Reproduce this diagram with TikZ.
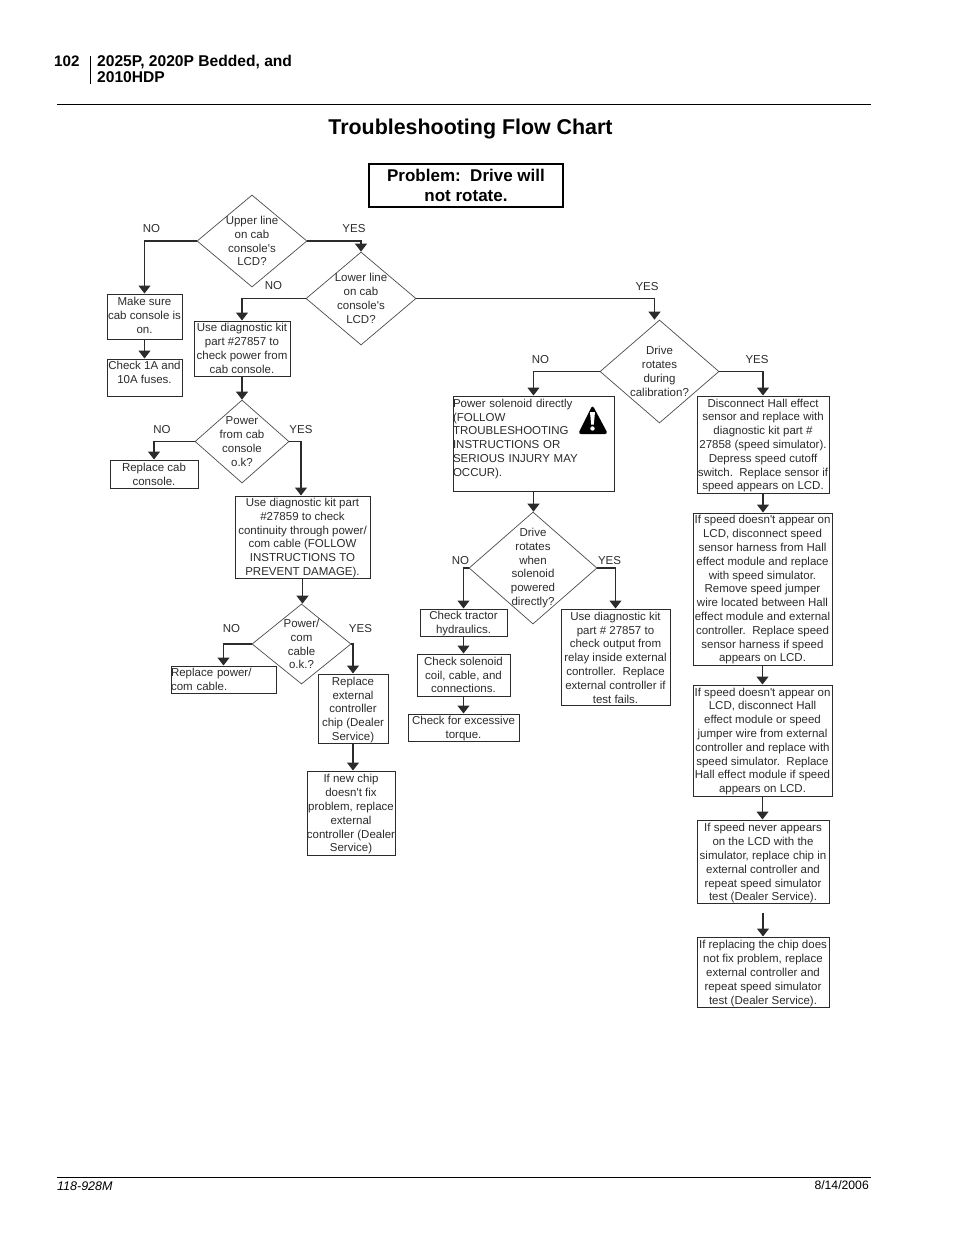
\documentclass[tikz,border=0pt]{standalone}
\usepackage{fontspec}
\setmainfont{Liberation Sans}
\usetikzlibrary{arrows.meta,shapes.geometric}
\definecolor{ink}{HTML}{2B2B2B}
\tikzset{
  every node/.style = {inner sep = 0pt, text = ink},
  flowtext/.style = {font = \fontsize{11.5}{13.8}\selectfont, align = center},
  box/.style = {draw = ink, line width = 1pt},
  leftbox/.style = {box, flowtext, align = left},
  decision/.style = {diamond, draw = ink!85, line width = .7pt},
  flow/.style = {draw = ink, line width = 1.3pt, -{Triangle[width = 12pt, length = 8pt]}},
  rule/.style = {black, line width = .8pt}
}
\begin{document}
\begin{tikzpicture}[x = 1pt, y = -1pt]
  \useasboundingbox (0,0) rectangle (954,1235);
  % page furniture
  \node[anchor = west, text = black, font = \fontsize{15.2}{15.5}\selectfont\bfseries] (page) at (54,61) {102};
  \node[anchor = north west, align = left, text = black, font = \fontsize{15.6}{15.5}\selectfont\bfseries] (model) at (97,55) {2025P, 2020P Bedded, and\\2010HDP};
  \node[text = black, font = \fontsize{21.4}{24}\selectfont\bfseries] (title) at (470.5,129) {Troubleshooting Flow Chart};
  \node[anchor = west, text = black, font = \fontsize{12.5}{14}\selectfont\itshape] (partno) at (57,1186) {118-928M};
  \node[anchor = east, text = black, font = \fontsize{12.2}{14}\selectfont] (date) at (869,1185) {8/14/2006};
  \draw[rule] (90.5,56) -- (90.5,84);
  \draw[rule] (57,104.5) -- (871,104.5);
  \draw[rule] (57,1177) -- (871,1177);

  \node[draw = black, line width = 2.4pt, minimum width = 194, minimum height = 43, align = center, text = black,
    font = \fontsize{17}{20.5}\selectfont\bfseries] (problem) at (466,185.5) {Problem:\ \ Drive will\\not rotate.};

  % decisions
  \foreach \id/\x/\y/\w/\h/\txt in {
    upper/252/241/110/92/{Upper line\\on cab\\console\textquotesingle s\\LCD?},
    lower/361/298.5/110/93/{Lower line\\on cab\\console\textquotesingle s\\LCD?},
    power/242/441.5/94/83/{Power\\from cab\\console\\o.k?},
    powercom/301.5/644/99/80/{Power/\\com\\cable\\o.k.?},
    calib/659.5/371.5/119/103/{Drive\\rotates\\during\\calibration?},
    direct/533/568/128/112/{Drive\\rotates\\when\\solenoid\\powered\\directly?}}{
    \node[decision, minimum width = \w, minimum height = \h,
      label = {[flowtext]center:\txt}] (\id) at (\x,\y) {};
  }

  % boxes, last but one field moves the text down
  \foreach \id/\x/\y/\w/\h/\dy/\txt in {
    make/144.5/316.5/75/45/-1/{Make sure\\cab console is\\on.},
    fuses/144.5/377.5/75/37/-5/{Check 1A and\\10A fuses.},
    kitcab/242/348.5/96/55/0/{Use diagnostic kit\\part \#27857 to\\check power from\\cab console.},
    cabrep/154/474/88/28/0/{Replace cab\\console.},
    kitcom/302.5/537/135/82/1/{Use diagnostic kit part\\\#27859 to check\\continuity through power/\\com cable (FOLLOW\\INSTRUCTIONS TO\\PREVENT DAMAGE).},
    chip/353/708.5/70/69/1.5/{Replace\\external\\controller\\chip (Dealer\\Service)},
    newchip/351/813/88/84/1.5/{If new chip\\doesn\textquotesingle t fix\\problem, replace\\external\\controller (Dealer\\Service)},
    tractor/463.5/622.5/87/27/1/{Check tractor\\hydraulics.},
    coil/463.5/675/93/42/0/{Check solenoid\\coil, cable, and\\connections.},
    torque/463.5/727.5/111/27/1/{Check for excessive\\torque.},
    relay/615.5/657/109/96/.5/{Use diagnostic kit\\part \# 27857 to\\check output from\\relay inside external\\controller.\ \ Replace\\external controller if\\test fails.},
    hall/763/444.5/132/97/1/{Disconnect Hall effect\\sensor and replace with\\diagnostic kit part \#\\27858 (speed simulator).\\Depress speed cutoff\\switch.\ \ Replace sensor if\\speed appears on LCD.},
    harness/762.5/589/139/152/1/{If speed doesn\textquotesingle t appear on\\LCD, disconnect speed\\sensor harness from Hall\\effect module and replace\\with speed simulator.\\Remove speed jumper\\wire located between Hall\\effect module and external\\controller.\ \ Replace speed\\sensor harness if speed\\appears on LCD.},
    module/762.5/740.5/139/111/1/{If speed doesn\textquotesingle t appear on\\LCD, disconnect Hall\\effect module or speed\\jumper wire from external\\controller and replace with\\speed simulator.\ \ Replace\\Hall effect module if speed\\appears on LCD.},
    never/763/861.5/132/83/2/{If speed never appears\\on the LCD with the\\simulator, replace chip in\\external controller and\\repeat speed simulator\\test (Dealer Service).},
    replacing/763/972/132/70/1.5/{If replacing the chip does\\not fix problem, replace\\external controller and\\repeat speed simulator\\test (Dealer Service).}}{
    \node[box, minimum width = \w, minimum height = \h,
      label = {[flowtext, yshift = -\dy pt]center:\txt}] (\id) at (\x,\y) {};
  }
  \node[leftbox, text width = 105, minimum height = 27] (cablerep) at (223.5,679.5) {Replace power/\\com cable.};
  \node[leftbox, text width = 161, minimum height = 95] (solenoid) at (533.5,443.5)
  {Power solenoid directly\\(FOLLOW\\TROUBLESHOOTING\\INSTRUCTIONS OR\\SERIOUS INJURY MAY\\OCCUR).\\[-2pt]\mbox{}};

  % warning sign
  \fill[black, rounded corners = 3pt] (592.5,405) -- (608,434) -- (578,434) -- cycle;
  \fill[white] (590,412) -- (595,412) -- (593.8,424.5) -- (591.2,424.5) -- cycle;
  \fill[white] (592.5,428.5) circle (2.2pt);

  % answers
  \foreach \id/\txt/\x/\y in {
    upperno/NO/151.5/229, upperyes/YES/354/229,
    lowerno/NO/273.5/286, loweryes/YES/647/287,
    powerno/NO/162/430, poweryes/YES/301/430,
    comno/NO/231.5/629, comyes/YES/360.5/629,
    calibno/NO/540.5/360, calibyes/YES/757/360,
    directno/NO/460.5/561, directyes/YES/609.5/561}{
    \node[flowtext] (\id) at (\x,\y) {\txt};
  }

  % connectors
  \draw[flow] (upper.west) -| (make.north);
  \draw[flow] (upper.east) -| (lower.north);
  \draw[flow] (make.south) -- (fuses.north);
  \draw[flow] (lower.west) -| (kitcab.north);
  \draw[flow] (lower.east) -| ([xshift = -5pt]calib.north);
  \draw[flow] (kitcab.south) -- (power.north);
  \draw[flow] (power.west) -| (cabrep.north);
  \draw[flow] (power.east) -| ([xshift = -1.5pt]kitcom.north);
  \draw[flow] (kitcom.south) -- (kitcom.south |- powercom.north);
  \draw[flow] (powercom.west) -| (cablerep.north);
  \draw[flow] (powercom.east) -| (chip.north);
  \draw[flow] (chip.south) -- (chip.south |- newchip.north);
  \draw[flow] (calib.west) -| (solenoid.north);
  \draw[flow] (calib.east) -| (hall.north);
  \draw[flow] (solenoid.south) -- (solenoid.south |- direct.north);
  \draw[flow] (direct.west) -| (tractor.north);
  \draw[flow] (direct.east) -| (relay.north);
  \draw[flow] (tractor.south) -- (coil.north);
  \draw[flow] (coil.south) -- (torque.north);
  \draw[flow] (hall.south) -- (hall.south |- harness.north);
  \draw[flow] (harness.south) -- (module.north);
  \draw[flow] (module.south) -- (module.south |- never.north);
  \coordinate (gap) at (763,913);
  \draw[flow] (gap) -- (replacing.north);
\end{tikzpicture}
\end{document}
